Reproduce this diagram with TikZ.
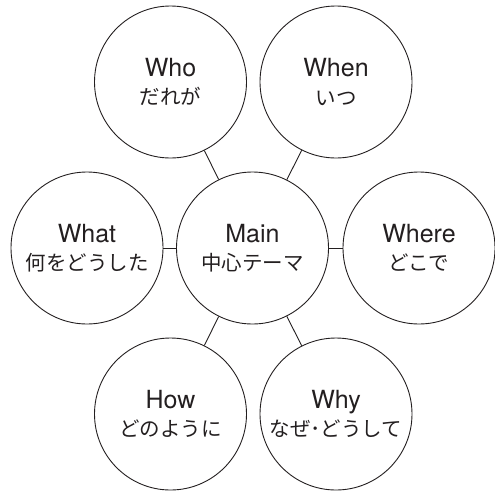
\documentclass[tikz,border=0pt]{standalone}
\usepackage{fontspec}
\setmainfont{TeX Gyre Heros}
\newfontfamily\cjk{Noto Sans CJK JP}
\definecolor{ink}{HTML}{231F20}
\newcommand{\ja}[1]{{\fontsize{20.5}{28.5}\cjk #1}}
\begin{document}
\begin{tikzpicture}[x=1pt,y=-1pt,
  bubble/.style={circle,draw=ink,line width=0.9pt,inner sep=0pt,minimum size=152pt,
    align=center,text=ink,font=\fontsize{25}{28.5}\selectfont},
  link/.style={draw=ink,line width=0.9pt}]
\useasboundingbox (0,0) rectangle (495,493);
\node[bubble] (main)  at (252.5,248) {Main\\\ja{中心テーマ}};
\node[bubble] (who)   at (170.5,82)  {Who\\\ja{だれが}};
\node[bubble] (when)  at (336,82)    {When\\\ja{いつ}};
\node[bubble] (what)  at (87,248)    {What\\\ja{何をどうした}};
\node[bubble] (where) at (419,248)   {Where\\\ja{どこで}};
\node[bubble] (how)   at (170.5,414) {How\\\ja{どのように}};
\node[bubble] (why)   at (336,414)   {Why\\\ja{なぜ･どうして}};
\draw[link] (main) -- (who);
\draw[link] (main) -- (when);
\draw[link] (main) -- (what);
\draw[link] (main) -- (where);
\draw[link] (main) -- (how);
\draw[link] (main) -- (why);
\end{tikzpicture}
\end{document}
